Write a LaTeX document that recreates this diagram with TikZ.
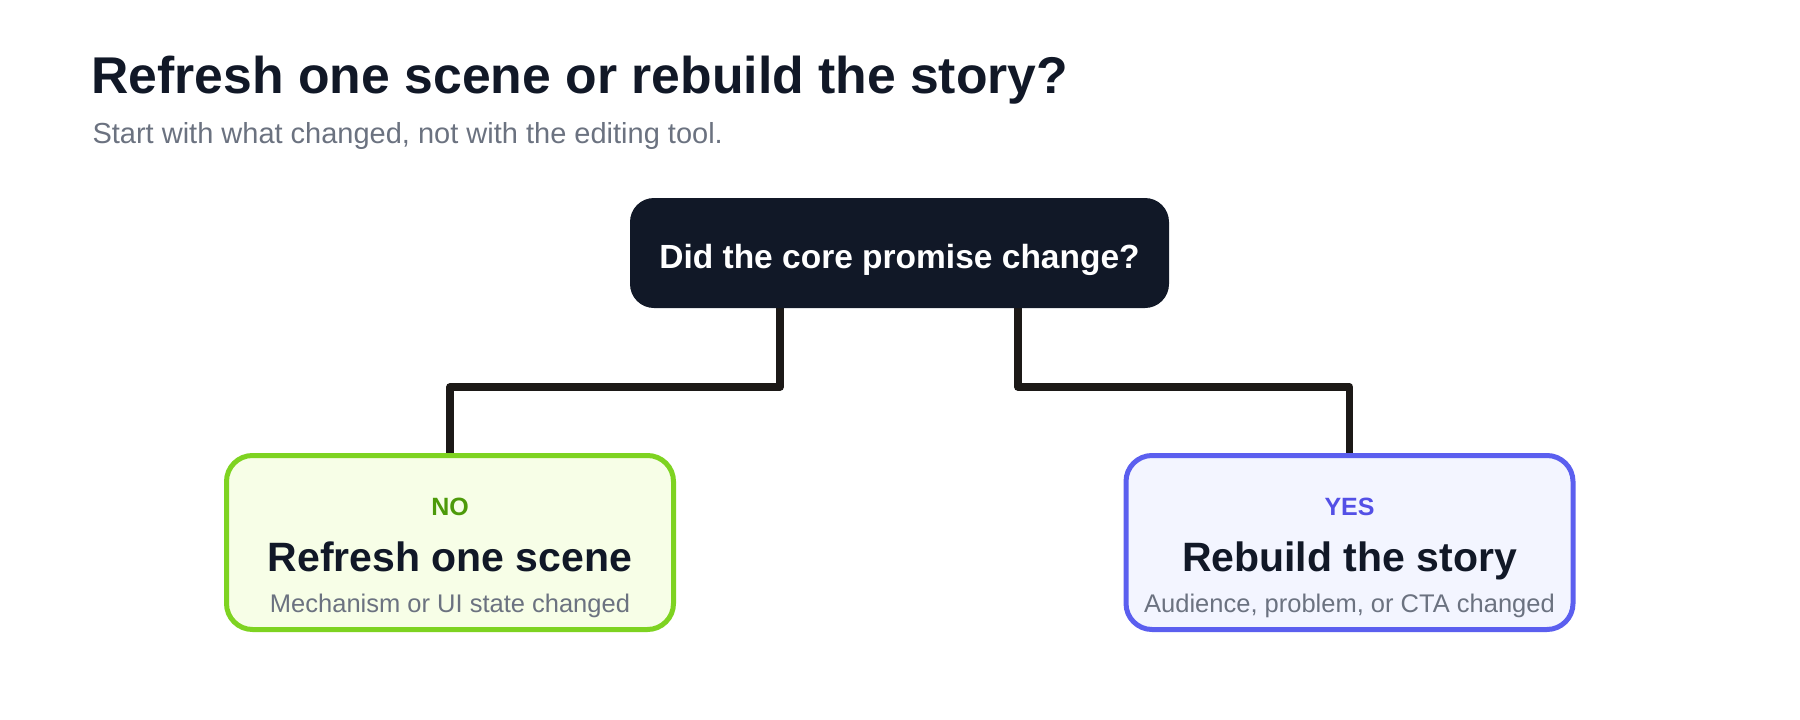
\documentclass[tikz,border=0pt]{standalone}
\usepackage{fontspec}
\setmainfont{Liberation Sans}
\definecolor{ink}{HTML}{111827}
\definecolor{muted}{HTML}{6B7280}
\definecolor{wire}{HTML}{1C1917}
\definecolor{limeline}{HTML}{7ED321}
\definecolor{limefill}{HTML}{F7FEE7}
\definecolor{limetext}{HTML}{4D9A0A}
\definecolor{indigoline}{HTML}{5B5FEF}
\definecolor{indigofill}{HTML}{F3F5FF}
\definecolor{indigotext}{HTML}{5350E6}
\newcommand{\px}[1]{\fontsize{#1}{#1}\selectfont}
\tikzset{
  question/.style={fill=ink, text=white, rounded corners=24pt,
    minimum width=539pt, minimum height=110pt, font=\px{33.5}\bfseries},
  answer/.style={line width=5pt, rounded corners=26pt,
    minimum width=447pt, minimum height=174pt},
  wirepath/.style={draw=wire, line width=7.5pt, line join=round},
  tag/.style={anchor=base, font=\px{25}\bfseries},
  head/.style={anchor=base, text=ink, font=\px{41}\bfseries},
  note/.style={anchor=base, text=muted, font=\px{25.5}}
}
\begin{document}
\begin{tikzpicture}[x=1pt,y=-1pt]
      \useasboundingbox (0,0) rectangle (1800,720);
      \draw
        (88,93) node[anchor=base west, text=ink, font=\px{51.7}\bfseries] (title){Refresh one scene or rebuild the story?}
        (89,143) node[anchor=base west, text=muted, font=\px{29}] (subtitle){Start with what changed, not with the editing tool.};
      \coordinate (splitno) at (780,387);
      \coordinate (splityes) at (1018,387);
      \node[answer, draw=limeline, fill=limefill] (no) at (450,542.5) {};
      \node[answer, draw=indigoline, fill=indigofill] (yes) at (1349.5,542.5) {};
      \begin{scope}[wirepath]
        \draw (splitno |- 0,300) -- (splitno) -| (no.north);
        \draw (splityes |- 0,300) -- (splityes) -| (yes.north);
      \end{scope}
      \node[question] (ask) at (899.5,253) {};
      \node[anchor=base, text=white, font=\px{33.5}\bfseries] (asktext) at (899.5,268) {Did the core promise change?};
      \draw
        (450,515) node[tag, text=limetext] (notag){NO}
        (450,571) node[head] (nohead){Refresh one scene}
        (450,612) node[note] (nonote){Mechanism or UI state changed}
        (1349.5,515) node[tag, text=indigotext] (yestag){YES}
        (1349.5,571) node[head] (yeshead){Rebuild the story}
        (1349.5,612) node[note] (yesnote){Audience, problem, or CTA changed};
    \end{tikzpicture}
\end{document}
